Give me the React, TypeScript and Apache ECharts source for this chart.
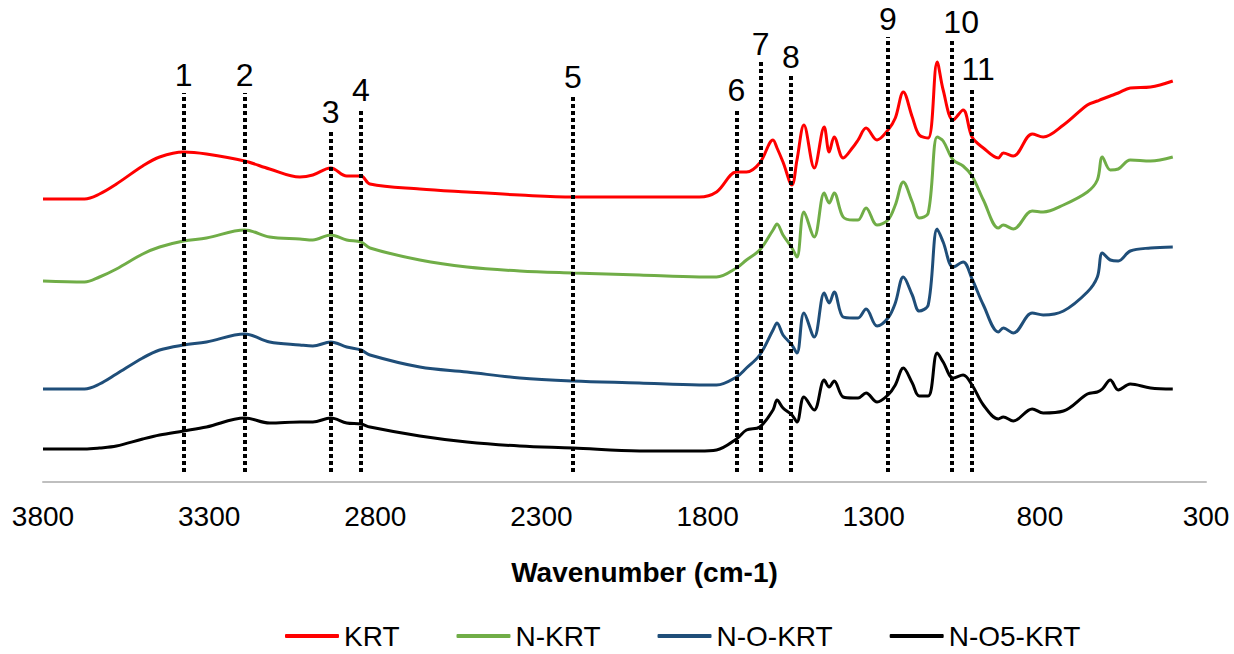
import React, { useEffect, useRef } from "react";
import * as echarts from "echarts";

// Wavenumber grid (cm-1)
const wavenumbers = [
  3800, 3675, 3630, 3579, 3500, 3449, 3377, 3308, 3193, 3118,
  3027, 2988, 2934, 2886, 2843, 2816, 2666, 2524, 2365, 2205,
  2005, 1825, 1773, 1713, 1683, 1643, 1603, 1591, 1573, 1546,
  1531, 1510, 1479, 1449, 1434, 1419, 1392, 1362, 1347, 1323,
  1290, 1257, 1235, 1211, 1184, 1163, 1136, 1109, 1091, 1061,
  1031, 1004, 970, 925, 910, 880, 823, 790, 729, 657,
  627, 612, 588, 564, 528, 467, 400,
];

// Offset spectra (arbitrary units)
const krt = [
  283, 283, 288, 298, 316, 325, 330, 328, 321, 313,
  305, 307, 314, 306, 306, 298, 293, 290, 287, 285,
  285, 285, 290, 310, 310, 319, 342, 334, 320, 297,
  322, 357, 314, 355, 330, 345, 324, 335, 342, 354,
  342, 352, 364, 390, 365, 347, 344, 420, 392, 362,
  372, 345, 334, 324, 329, 326, 348, 345, 357, 377,
  381, 383, 386, 389, 394, 395, 401,
];
const nKrt = [
  201, 200, 205, 213, 228, 235, 241, 244, 252, 245,
  243, 242, 247, 242, 240, 234, 222, 215, 211, 209,
  207, 205, 205, 214, 222, 232, 252, 258, 247, 234,
  225, 270, 245, 289, 279, 289, 265, 262, 262, 274,
  257, 262, 277, 300, 280, 264, 269, 345, 341, 322,
  316, 306, 282, 254, 257, 253, 271, 270, 277, 290,
  302, 325, 312, 313, 322, 321, 325,
];
const noKrt = [
  93, 93, 98, 108, 124, 132, 137, 140, 148, 140,
  137, 136, 140, 135, 132, 127, 115, 110, 104, 101,
  99, 97, 97, 105, 114, 127, 152, 159, 147, 137,
  129, 169, 145, 189, 179, 190, 165, 164, 164, 173,
  156, 164, 179, 205, 187, 171, 177, 253, 240, 215,
  220, 203, 177, 150, 154, 149, 169, 167, 171, 190,
  205, 229, 222, 221, 231, 234, 235,
];
const no5Krt = [
  33, 33, 34, 36, 43, 47, 51, 55, 64, 59,
  60, 60, 64, 59, 58, 55, 46, 40, 36, 34,
  31, 31, 32, 43, 52, 55, 72, 82, 74, 67,
  60, 85, 72, 102, 95, 101, 85, 84, 84, 89,
  80, 87, 97, 114, 99, 86, 86, 129, 120, 104,
  107, 97, 77, 63, 65, 61, 73, 69, 71, 88,
  90, 93, 102, 92, 98, 94, 93,
];

const seriesNames = ["KRT", "N-KRT", "N-O-KRT", "N-O5-KRT"];
const seriesValues = [krt, nKrt, noKrt, no5Krt];
const seriesColors = ["#FF0000", "#70AD47", "#1F4E79", "#000000"];

// Band markers
const markerLabels = ["1", "2", "3", "4", "5", "6", "7", "8", "9", "10", "11"];
const markerPositions = [3377, 3193, 2934, 2843, 2205, 1713, 1640, 1549, 1257, 1064, 1004];
const markerTops = [389, 389, 352, 374, 387, 374, 420, 407, 445, 442, 395];
const markerBottom = 10;
const markerLabelShift = [0, 0, 0, 0, 0, 0, 0, 0, 0, 9, 6];

const FONT = '"Liberation Sans", Arial, sans-serif';

export default function App() {
  const ref = useRef<HTMLDivElement>(null);
  useEffect(() => {
    if (!ref.current) return;
    const chart = echarts.init(ref.current, undefined, { renderer: "svg" });
    const lineSeries = seriesNames.map((name, i) => ({
      name,
      type: "line",
      data: wavenumbers.map((w, j) => [w, seriesValues[i][j]]),
      symbol: "none",
      smooth: 0.35,
      lineStyle: { color: seriesColors[i], width: 3 },
      itemStyle: { color: seriesColors[i] },
      z: 2,
    }));
    const markerSeries = {
      name: "markers",
      type: "line",
      data: [],
      symbol: "none",
      silent: true,
      z: 5,
      markLine: {
        silent: true,
        symbol: ["none", "none"],
        animation: false,
        lineStyle: { color: "#000", width: 4, type: [4, 3], opacity: 1 },
        emphasis: { disabled: true },
        label: {
          show: true,
          position: "end",
          distance: 2,
          fontSize: 32,
          fontFamily: FONT,
          color: "#000",
          formatter: "{b}",
        },
        data: markerPositions.map((p, i) => [
          { name: markerLabels[i], coord: [p, markerBottom] },
          {
            coord: [p, markerTops[i]],
            label: { offset: [markerLabelShift[i], 0] },
          },
        ]),
      },
    };
    chart.setOption({
      animation: false,
      grid: { left: 43, right: 28, top: 2, bottom: 172, containLabel: false },
      xAxis: {
        type: "value",
        inverse: true,
        min: 300,
        max: 3800,
        interval: 500,
        name: "Wavenumber (cm-1)",
        nameLocation: "middle",
        nameGap: 76,
        nameTextStyle: {
          fontSize: 28,
          fontWeight: "bold",
          color: "#000",
          fontFamily: FONT,
          padding: [0, 0, 0, 40],
        },
        axisLine: { show: true, lineStyle: { color: "#BFBFBF", width: 2 } },
        axisTick: { show: false },
        splitLine: { show: false },
        axisLabel: {
          fontSize: 28,
          color: "#000",
          fontFamily: FONT,
          margin: 20,
          formatter: (v: number) => String(v),
        },
      },
      yAxis: {
        type: "value",
        min: 0,
        max: 480,
        show: false,
        splitLine: { show: false },
      },
      legend: {
        data: seriesNames,
        left: 280,
        top: 617,
        icon: "roundRect",
        itemWidth: 54,
        itemHeight: 4,
        itemGap: 57,
        textStyle: { fontSize: 28, color: "#000", fontFamily: FONT },
      },
      series: [...lineSeries, markerSeries],
    });
    return () => chart.dispose();
  }, []);
  return (
    <div
      ref={ref}
      style={{ position: "fixed", left: 0, top: 0, width: 1234, height: 654, background: "#fff" }}
    />
  );
}
